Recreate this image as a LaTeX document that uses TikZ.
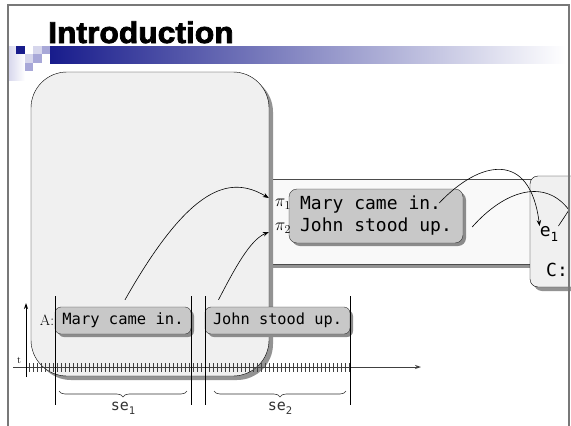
\documentclass[tikz,border=0pt]{standalone}
\usepackage{fontspec}
\setmonofont{DejaVu Sans Mono}
\newfontfamily\titlefont[FakeBold=2.5]{Liberation Sans}
\usetikzlibrary{positioning, arrows.meta, shadows, decorations.pathreplacing, calc}

\definecolor{barblue}{RGB}{24,28,140}
\definecolor{panelgray}{RGB}{240,240,240}
\definecolor{stripgray}{RGB}{249,249,249}
\definecolor{boxgray}{RGB}{200,200,200}
\definecolor{lavlight}{RGB}{214,214,236}
\definecolor{lavmid}{RGB}{168,168,216}
\definecolor{framegray}{RGB}{120,120,120}

\newcommand{\monosub}[1]{\raisebox{-0.3em}{\scalebox{0.7}{#1}}}

\begin{document}
\begin{tikzpicture}[
            x=1pt, y=-1pt,
            % node styles
            panel/.style={rectangle, draw=black, fill=panelgray, inner sep=0pt,
                drop shadow={shadow xshift=4pt, shadow yshift=-4pt, fill=gray!85, opacity=1}},
            strip/.style={rectangle, draw=black!70, fill=stripgray, inner sep=0pt,
                drop shadow={shadow xshift=3pt, shadow yshift=-4pt, fill=gray!85, opacity=1}},
            textbox/.style={rectangle, draw=black!80, fill=boxgray, rounded corners=6pt, inner sep=0pt,
                font=\ttfamily, drop shadow={shadow xshift=3pt, shadow yshift=-3pt, fill=gray!90, opacity=1}},
            tick/.style={black!75, line width=1pt},
            segline/.style={black, line width=0.6pt},
            arrow/.style={-{Stealth[length=6pt, width=4.5pt]}, black, line width=0.6pt},
            curve/.style={black, line width=0.6pt}
        ]
            \clip (0,0) rectangle (571,426);
            \fill[white] (0,0) rectangle (571,426);

            % Header bar and title
            \shade[left color=lavlight, right color=white] (8,46) rectangle (25,80);
            \shade[left color=barblue, right color=white] (50,46) rectangle (566,63);
            \fill[barblue] (16,46) rectangle (25,54);
            \fill[lavlight] (33,46) rectangle (42,54);
            \fill[lavmid] (42,46) rectangle (50,54);
            \fill[lavlight] (25,54) rectangle (33,63);
            \fill[lavmid] (33,54) rectangle (42,63);
            \fill[lavmid] (25,63) rectangle (33,71);
            \node[anchor=base west, inner sep=0pt, font=\titlefont\bfseries\fontsize{30}{30}\selectfont]
                (title) at (48,43) {\scalebox{1.06}[1]{Introduction}};

            % Boxes
            \node[strip, minimum width=290pt, minimum height=85pt] (drs) at (395,221.5) {};
            \node[panel, rounded corners=36pt, minimum width=238pt, minimum height=304pt] (story) at (150,224) {};
            \node[panel, rounded corners=8pt, minimum width=80pt, minimum height=111pt] (cbox) at (570,231.5) {};

            \node[textbox, rounded corners=8pt, minimum width=174pt, minimum height=54pt, align=left,
                font=\ttfamily\fontsize{18}{22}\selectfont] (inner) at (376,216) {Mary came in.\\John stood up.};
            \node[inner sep=0pt, font=\fontsize{18}{18}\selectfont] (pione) at (283,204) {$\pi_1$};
            \node[inner sep=0pt, font=\fontsize{18}{18}\selectfont] (pitwo) at (283,228) {$\pi_2$};

            \node[inner sep=0pt, font=\ttfamily\fontsize{18}{18}\selectfont] (eone) at (549,234) {e\monosub{1}};
            \node[inner sep=0pt, font=\ttfamily\fontsize{18}{18}\selectfont] (cname) at (557,270) {C:};
            \coordinate (exit) at (569,210);

            % Time line
            \coordinate (segtop) at (0,296);
            \coordinate (segbot) at (0,405);
            \draw[-{Stealth[length=6pt, width=4pt]}, black!75, line width=1pt] (13,367) -- (421,367);
            \draw[-{Stealth[length=6pt, width=4pt]}, black, line width=0.8pt] (26,377) -- (26,303);
            \node[inner sep=0pt, font=\fontsize{10}{10}\selectfont] (tlab) at (19,360) {t};
            \foreach \x in {29,33,...,349}
                \draw[tick] (\x,363) -- (\x,372);

            \node[textbox, minimum width=136pt, minimum height=27pt, font=\ttfamily\fontsize{15.5}{15.5}\selectfont]
                (tlmary) at (123,320.5) {Mary came in.};
            \node[textbox, minimum width=145pt, minimum height=27pt, font=\ttfamily\fontsize{15.3}{15.3}\selectfont]
                (tljohn) at (277.5,320.5) {John stood up.};
            \node[inner sep=0pt, font=\fontsize{15}{15}\selectfont, left=0.5pt of tlmary] (alab) {A:};

            \foreach \n/\a in {tlmary/west, tlmary/east, tljohn/west, tljohn/east}
                \draw[segline] (\n.\a |- segtop) -- (\n.\a |- segbot);

            % Braces and segment names
            \draw[decorate, decoration={brace, mirror, amplitude=6pt}, black!80, line width=0.6pt]
                (59,391) -- (187,391) node[midway, below=7pt, font=\ttfamily\fontsize{15}{15}\selectfont] (seone) {se\monosub{1}};
            \draw[decorate, decoration={brace, mirror, amplitude=6pt}, black!80, line width=0.6pt]
                (214,391) -- (346,391) node[midway, below=7pt, font=\ttfamily\fontsize{15}{15}\selectfont] (setwo) {se\monosub{2}};

            % Connectors
            \draw[arrow] ([xshift=2pt, yshift=7pt]tlmary.north) .. controls (190,185) and (230,175) .. ([xshift=-6pt, yshift=6pt]pione.west);
            \draw[arrow] ([xshift=-59pt, yshift=7pt]tljohn.north) .. controls (235,268) and (250,240) .. ([xshift=-6pt, yshift=-4pt]pitwo.west);
            \draw[arrow] ([xshift=-24pt, yshift=13pt]inner.east) .. controls (480,160) and (530,150) .. (eone.north west);
            \draw[curve] ([xshift=9pt, yshift=-11pt]inner.east) .. controls (505,190) and (545,178) .. (exit);
            \draw[curve] (eone.north east) -- (exit);

            % Frame
            \draw[framegray, line width=1.5pt] (8,430) -- (8,5) -- (569,5) -- (569,430);
        \end{tikzpicture}
\end{document}
